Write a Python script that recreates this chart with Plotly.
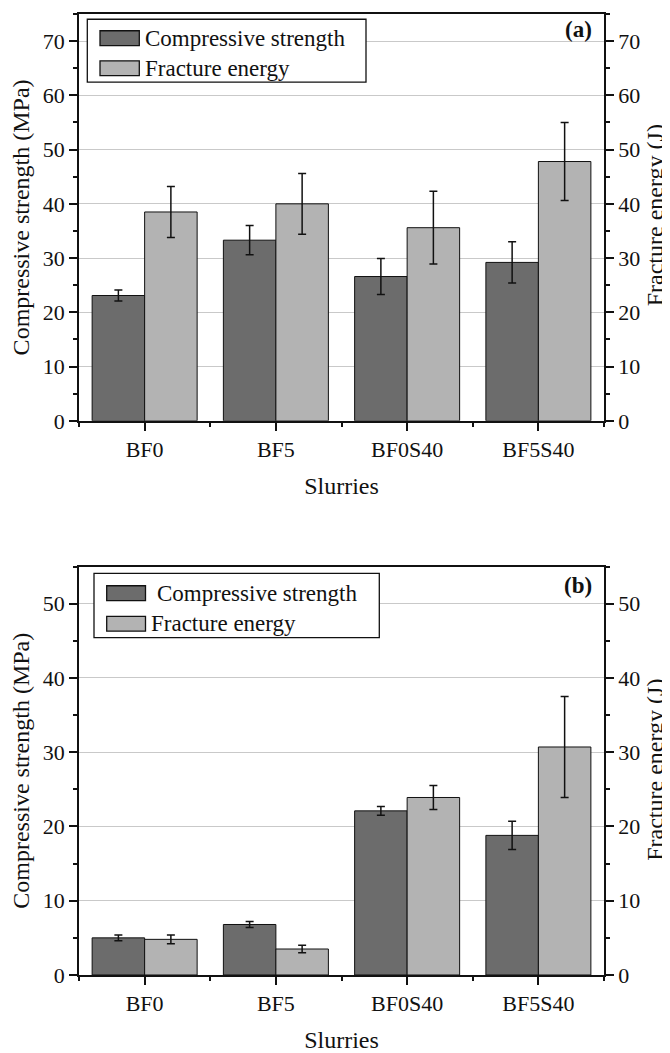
import plotly.graph_objects as go

# ---------------- data ----------------
slurries = ["BF0", "BF5", "BF0S40", "BF5S40"]
x_pos = [0, 1, 2, 3]

# panel (a)
cs_a = [23.1, 33.3, 26.6, 29.2]
cs_a_err = [1.0, 2.7, 3.3, 3.8]
fe_a = [38.5, 40.0, 35.6, 47.8]
fe_a_err = [4.7, 5.6, 6.7, 7.2]

# panel (b)
cs_b = [5.0, 6.8, 22.1, 18.8]
cs_b_err = [0.4, 0.4, 0.6, 1.9]
fe_b = [4.8, 3.5, 23.9, 30.7]
fe_b_err = [0.6, 0.5, 1.6, 6.8]

series_names = ["Compressive strength", "Fracture energy"]
panel_labels = ["(a)", "(b)"]
axis_titles = ["Compressive strength (MPa)", "Fracture energy (J)", "Slurries"]

# ---------------- style ----------------
FONT = "Liberation Serif"
TXT = "#111111"
DARK = "#6c6c6c"
LIGHT = "#b3b3b3"
GRID = "#c9c9c9"
COLORS = [DARK, LIGHT]

# the page body adds an 8 px margin, so the figure is 8 px smaller and
# all page-pixel positions below are shifted by OFF
OFF = 8
W, H = 670 - OFF, 1053 - OFF
ML, MR, MT, MB = 79 - OFF, 66, 12 - OFF, 67
PW = W - ML - MR
PH = H - MT - MB


def px_x(px):
    return (px - OFF - ML) / PW


def px_y(py):
    return (H - MB - (py - OFF)) / PH


fig = go.Figure()


def add_panel(cs, cs_err, fe, fe_err, xa, ya_l, ya_r):
    fig.add_trace(go.Bar(
        x=x_pos, y=cs, name=series_names[0], xaxis=xa, yaxis=ya_l,
        width=0.4, offset=-0.4, showlegend=False,
        marker=dict(color=COLORS[0], line=dict(color=TXT, width=1)),
        error_y=dict(type="data", array=cs_err, color=TXT, thickness=1.5, width=4),
    ))
    fig.add_trace(go.Bar(
        x=x_pos, y=fe, name=series_names[1], xaxis=xa, yaxis=ya_r,
        width=0.4, offset=0.0, showlegend=False,
        marker=dict(color=COLORS[1], line=dict(color=TXT, width=1)),
        error_y=dict(type="data", array=fe_err, color=TXT, thickness=1.5, width=4),
    ))


add_panel(cs_a, cs_a_err, fe_a, fe_a_err, "x", "y", "y2")
add_panel(cs_b, cs_b_err, fe_b, fe_b_err, "x2", "y3", "y4")

tickfont = dict(family=FONT, size=22, color=TXT)
titlefont = dict(family=FONT, size=24, color=TXT)


def xaxis_cfg(anchor):
    return dict(
        anchor=anchor, domain=[0, 1], range=[-0.5, 3.5],
        tickmode="array", tickvals=x_pos, ticktext=slurries,
        ticks="outside", ticklen=8, tickwidth=1.5, tickcolor=TXT,
        minor=dict(tick0=0.5, dtick=1, ticks="outside", ticklen=4,
                   tickwidth=1.5, tickcolor=TXT),
        showline=True, linecolor=TXT, linewidth=1.5, mirror=True,
        showgrid=False, zeroline=False, tickfont=tickfont,
        title=dict(text=axis_titles[2], font=titlefont, standoff=16),
        fixedrange=True,
    )


def yaxis_cfg(domain, rng, anchor, side, title, overlay=None, grid=True, standoff=12):
    d = dict(
        domain=domain, range=rng, anchor=anchor, side=side,
        tickmode="linear", tick0=0, dtick=10,
        ticks="outside", ticklen=8, tickwidth=1.5, tickcolor=TXT,
        minor=dict(dtick=5, ticks="outside", ticklen=4, tickwidth=1.5,
                   tickcolor=TXT, showgrid=False),
        showline=True, linecolor=TXT, linewidth=1.5,
        showgrid=grid, gridcolor=GRID, gridwidth=1.2,
        zeroline=False, tickfont=tickfont,
        fixedrange=True,
    )
    if title:
        d["title"] = dict(text=title, font=titlefont, standoff=standoff)
    if overlay:
        d["overlaying"] = overlay
    return d


top_dom = [px_y(424.3), 1.0]
bot_dom = [0.0, px_y(572.0)]

# ---------- hand-drawn legends (wide swatches, as in the reference) ----------
shapes = []
annotations = []


def add_legend(box, swatch_x, rows, text_x):
    x0, y0, x1, y1 = box
    shapes.append(dict(type="rect", xref="paper", yref="paper",
                       x0=px_x(x0), x1=px_x(x1), y0=px_y(y1), y1=px_y(y0),
                       fillcolor="white", line=dict(color=TXT, width=1.3), layer="above"))
    for i, (name, col) in enumerate(zip(series_names, COLORS)):
        cy = rows[i]
        shapes.append(dict(type="rect", xref="paper", yref="paper",
                           x0=px_x(swatch_x[0]), x1=px_x(swatch_x[1]),
                           y0=px_y(cy + 7.5), y1=px_y(cy - 7.5),
                           fillcolor=col, line=dict(color=TXT, width=1.3), layer="above"))
        annotations.append(dict(text=name, xref="paper", yref="paper",
                                x=px_x(text_x[i]), y=px_y(cy), xanchor="left",
                                yanchor="middle", showarrow=False,
                                font=dict(family=FONT, size=23, color=TXT)))


add_legend((87.3, 17.3, 366, 81), (100, 139.3), (36.5, 67), (143, 143))
add_legend((94, 579, 379.3, 644), (106.7, 145.5), (599, 630), (155, 149))

for lbl, py in zip(panel_labels, (28, 591)):
    annotations.append(dict(text="<b>%s</b>" % lbl, xref="paper", yref="paper",
                            x=px_x(594), y=px_y(py), xanchor="right", yanchor="middle",
                            showarrow=False, font=dict(family=FONT, size=23, color=TXT)))

# right-hand axis titles (rotated annotations so they stay on the page)
for py in (216, 778):
    annotations.append(dict(text=axis_titles[1], xref="paper", yref="paper",
                            x=px_x(655), y=px_y(py), xanchor="center", yanchor="middle",
                            textangle=-90, showarrow=False, font=titlefont))

fig.update_layout(
    width=W, height=H,
    margin=dict(l=ML, r=MR, t=MT, b=MB),
    paper_bgcolor="white", plot_bgcolor="white",
    barmode="overlay", showlegend=False,
    font=dict(family=FONT, color=TXT),
    xaxis=xaxis_cfg("y"),
    xaxis2=xaxis_cfg("y3"),
    yaxis=yaxis_cfg(top_dom, [0, 75], "x", "left", axis_titles[0]),
    yaxis2=yaxis_cfg(top_dom, [0, 75], "x", "right", None, overlay="y", grid=False),
    yaxis3=yaxis_cfg(bot_dom, [0, 55], "x2", "left", axis_titles[0]),
    yaxis4=yaxis_cfg(bot_dom, [0, 55], "x2", "right", None, overlay="y3", grid=False),
    shapes=shapes,
    annotations=annotations,
)

fig.write_html("out.html")
